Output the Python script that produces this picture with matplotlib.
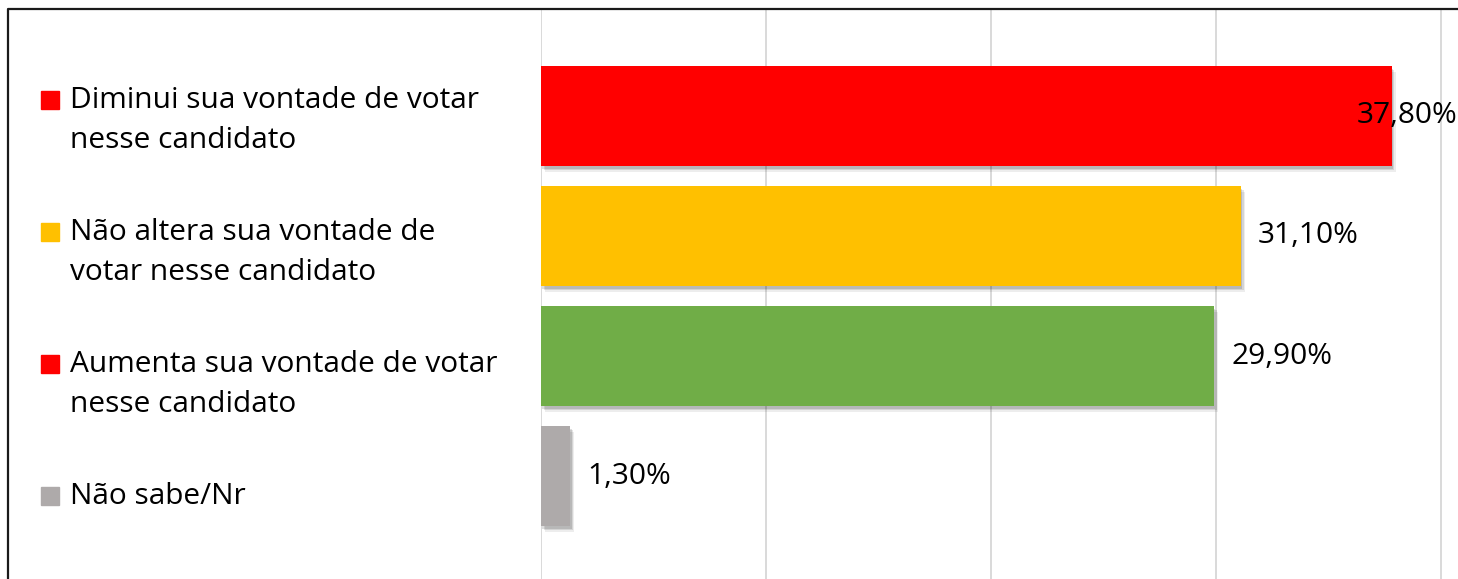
import matplotlib.pyplot as plt
import matplotlib.patheffects as pe
from matplotlib.lines import Line2D
from matplotlib.patches import Rectangle

# data
categories = [
    "Diminui sua vontade de votar\nnesse candidato",
    "Não altera sua vontade de\nvotar nesse candidato",
    "Aumenta sua vontade de votar\nnesse candidato",
    "Não sabe/Nr",
]
values = [37.8, 31.1, 29.9, 1.3]
labels = ["37,80%", "31,10%", "29,90%", "1,30%"]
bar_colors = ["#FF0000", "#FFC000", "#70AD47", "#AEAAAA"]
legend_colors = ["#FF0000", "#FFC000", "#FF0000", "#AEAAAA"]

W, H = 1458, 579
plt.rcParams["font.family"] = ["Open Sans", "DejaVu Sans"]
fig = plt.figure(figsize=(W / 100, H / 100), dpi=100)

# plot area in figure fractions (pixel positions from the reference)
ax = fig.add_axes([541 / W, 0, 1 - 541 / W, 1 - 10 / H])
ax.set_xlim(0, (W - 541) / 22.5)
ax.set_ylim(3.858, -0.883)

# soft shadow: a few stacked offset copies
shadow = [
    pe.SimplePatchShadow(offset=(3, -4), shadow_rgbFace="black", alpha=0.07),
    pe.SimplePatchShadow(offset=(2, -3), shadow_rgbFace="black", alpha=0.1),
    pe.SimplePatchShadow(offset=(1, -2), shadow_rgbFace="black", alpha=0.13),
    pe.Normal(),
]
bars = ax.barh(range(len(values)), values, height=0.833, color=bar_colors, zorder=3)
for b in bars:
    b.set_path_effects(shadow)

ax.set_xticks([0, 10, 20, 30, 40])
ax.set_yticks([])
ax.grid(axis="x", color="#D9D9D9", linewidth=1.4, zorder=0)
ax.tick_params(length=0, labelbottom=False)
for s in ax.spines.values():
    s.set_visible(False)

# value labels; the one that would run off the plot gets pulled back inside
fs = 21.5
xmax = ax.get_xlim()[1]
for i, (v, lab) in enumerate(zip(values, labels)):
    if v + 6 > xmax:
        ax.annotate(lab, xy=(0.999, i), xycoords=("axes fraction", "data"),
                    ha="right", va="center", fontsize=fs, color="black",
                    zorder=4, annotation_clip=False)
    else:
        ax.annotate(lab, xy=(v, i), xytext=(12.5, 0), textcoords="offset points",
                    ha="left", va="center", fontsize=fs, color="black", zorder=4)

# legend on the left, one block per category
line_h = 41
gap = 50
y = 100
for cat, col in zip(categories, legend_colors):
    extra = cat.count("\n")
    fig.patches.append(Rectangle((41 / W, 1 - (y + 9) / H), 18 / W, 18 / H,
                                 transform=fig.transFigure, color=col))
    fig.text(70 / W, 1 - (y + extra * line_h / 2) / H, cat, ha="left", va="center",
             fontsize=fs, linespacing=1.5, color="black")
    y += extra * line_h + line_h + gap

# outer frame (only left and top are visible in the crop)
fig.add_artist(Line2D([8 / W, 8 / W, 1], [0, 1 - 9 / H, 1 - 9 / H],
                      transform=fig.transFigure, color="#1a1a1a", linewidth=1.6))

fig.savefig("out.png", dpi=100)
